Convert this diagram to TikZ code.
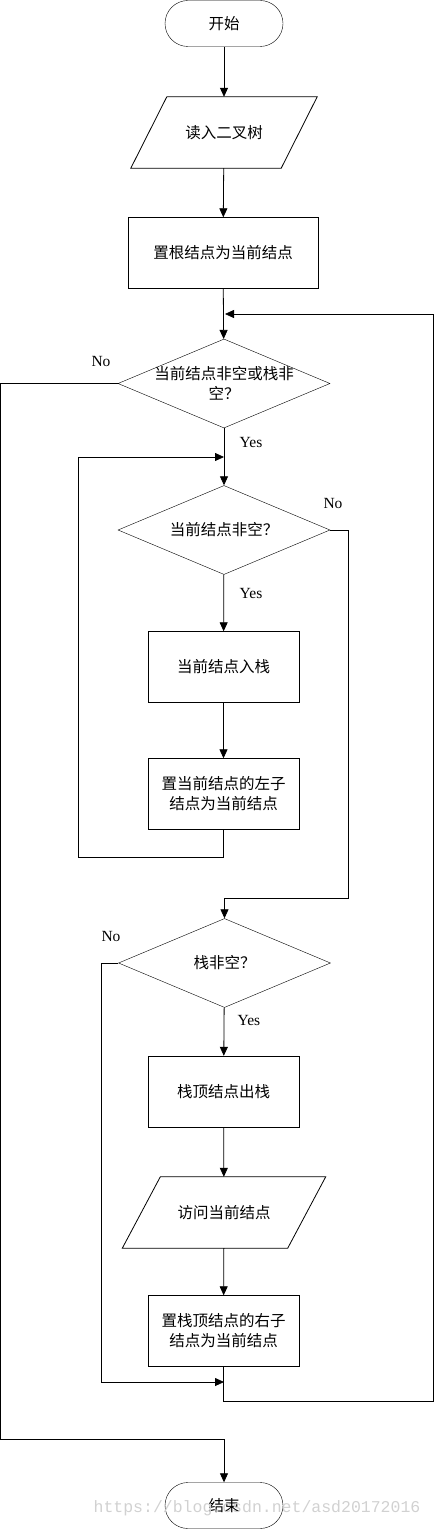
\documentclass[tikz,border=0pt]{standalone}
\usepackage{fontspec}
\setmainfont{Liberation Serif}
\newfontfamily\cjk{Noto Sans CJK SC}
\newfontfamily\wmfont{Liberation Mono}
\usetikzlibrary{arrows.meta,shapes.geometric}
\tikzset{
  every node/.style={inner sep=0pt},
  txt/.style={font=\cjk\fontsize{15.5}{20}\selectfont, align=center},
  term/.style={draw, rounded corners=23pt, minimum width=118pt, minimum height=46pt, txt},
  procbox/.style={draw, minimum width=151pt, minimum height=71pt, txt},
  iobox/.style={minimum height=71pt, txt},
  dia/.style={draw, diamond, minimum width=212pt, minimum height=89pt},
  yn/.style={font=\fontsize{15.5}{18}\selectfont},
  conn/.style={line width=0.8pt},
  arr/.style={conn, -{Triangle[length=9pt,width=8pt]}},
}
\begin{document}
\begin{tikzpicture}[x=1pt,y=-1pt]
\useasboundingbox (0,0) rectangle (434,1530);
% nodes
\node[term] (start) at (224,23.5) {开始};
\node[iobox, minimum width=150pt] (read) at (224,132.5) {读入二叉树};
\draw[conn] ([xshift=18pt]read.north west) -- ([xshift=18pt]read.north east) -- ([xshift=-18pt]read.south east) -- ([xshift=-18pt]read.south west) -- cycle;
\node[procbox, minimum width=190pt] (root) at (223,253) {置根结点为当前结点};
\node[dia, label={[txt]center:当前结点非空或栈非\\空？}] (d1) at (224,383.5) {};
\node[dia, label={[txt]center:当前结点非空？}] (d2) at (224,530) {};
\node[procbox] (push) at (223.5,667) {当前结点入栈};
\node[procbox] (left) at (223.5,794) {置当前结点的左子\\结点为当前结点};
\node[dia, label={[txt]center:栈非空？}] (d3) at (224.5,963) {};
\node[procbox] (pop) at (223.5,1091.5) {栈顶结点出栈};
\node[iobox, minimum width=165pt] (visit) at (224,1212.5) {访问当前结点};
\draw[conn] ([xshift=19pt]visit.north west) -- ([xshift=19pt]visit.north east) -- ([xshift=-19pt]visit.south east) -- ([xshift=-19pt]visit.south west) -- cycle;
\node[procbox] (setr) at (223.5,1331) {置栈顶结点的右子\\结点为当前结点};
\node[term] (end) at (224,1505.5) {结束};
% junction points
\coordinate (j1) at (225,314);
\coordinate (j2) at (224,457);
\coordinate (j3) at (224,1382);
% connectors
\draw[arr] (start) -- (read);
\draw[arr] (read) -- (root);
\draw[arr] (root) -- (d1);
\draw[arr] (d1) -- (d2);
\draw[arr] (d2) -- (push);
\draw[arr] (push) -- (left);
\draw[arr] (left.south) |- (78,857) |- (j2);
\draw[arr] (d2.east) -| (348,898) -| (d3.north);
\draw[arr] (d1.west) -| (0.5,1439) -| (end.north);
\draw[arr] (d3) -- (pop);
\draw[arr] (pop) -- (visit);
\draw[arr] (visit) -- (setr);
\draw[arr] (d3.west) -| (101,1382) -- (j3);
\draw[arr] (setr.south) |- (433,1401) |- (j1);
% labels
\node[yn] (no1) at (101,361) {No};
\node[yn] (yes1) at (251,442) {Yes};
\node[yn] (no2) at (333,503) {No};
\node[yn] (yes2) at (251,593) {Yes};
\node[yn] (no3) at (111,936) {No};
\node[yn] (yes3) at (249,1020) {Yes};
% watermark
\node[font=\wmfont\fontsize{16.5}{18}\selectfont, text=black!18] (wm) at (257,1508) {https://blog.csdn.net/asd20172016};
\end{tikzpicture}
\end{document}
